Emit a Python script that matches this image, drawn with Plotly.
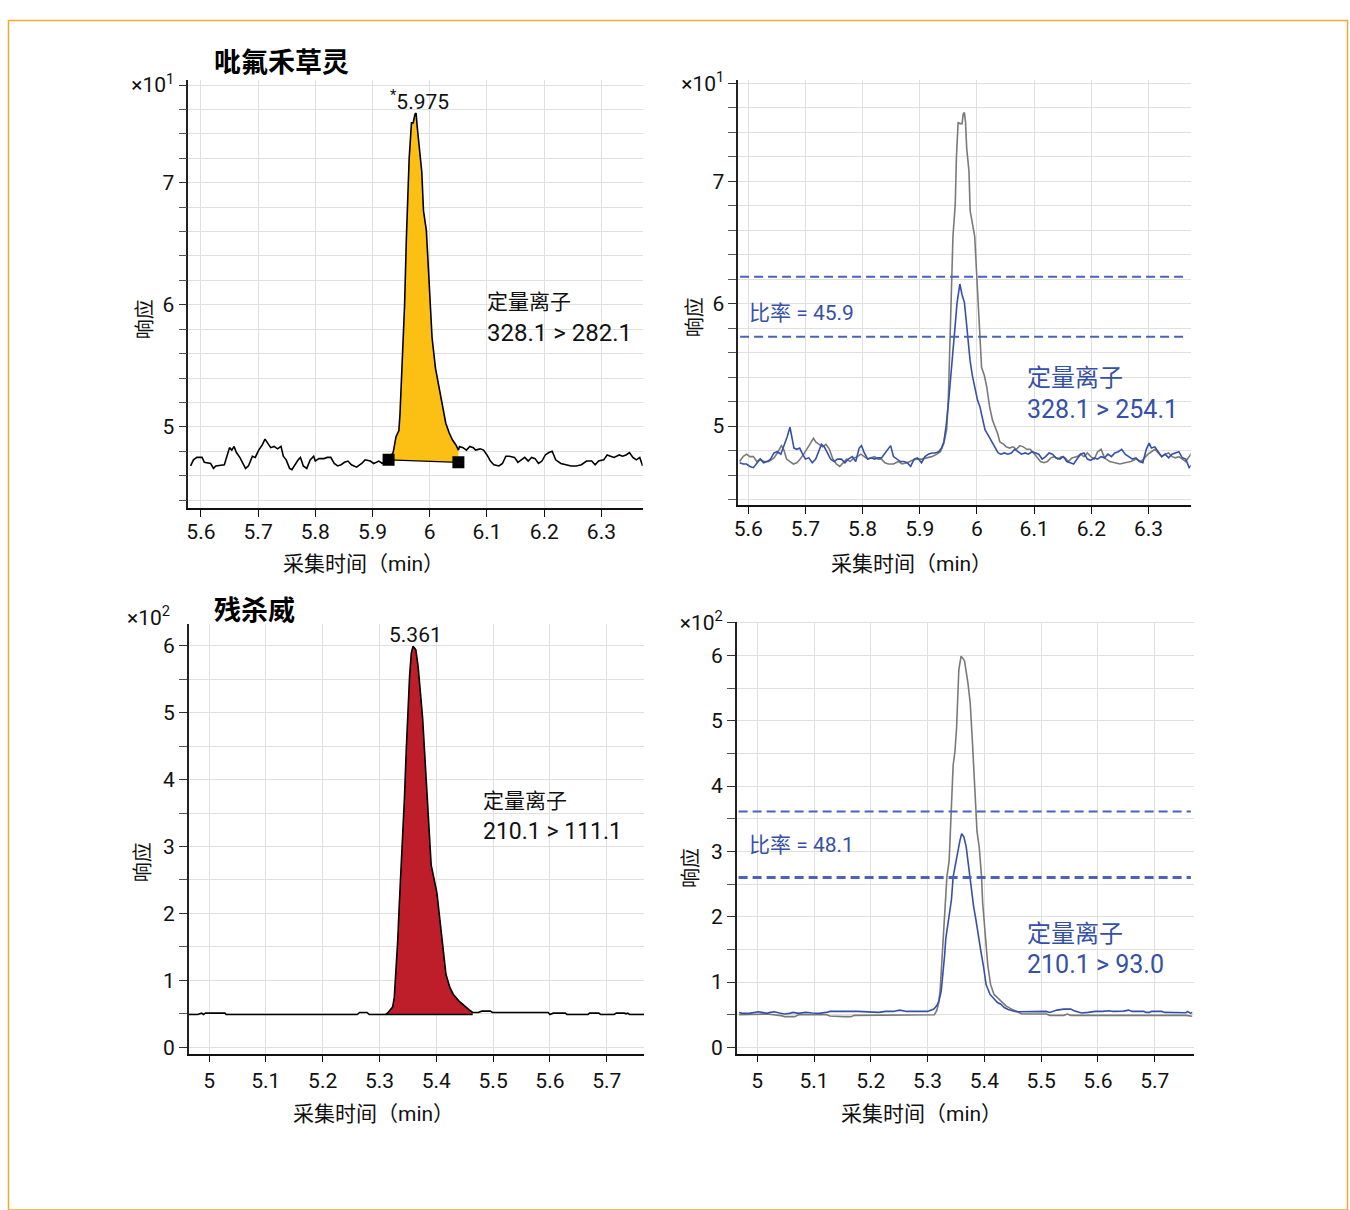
import plotly.graph_objects as go

W, H = 1350, 1210
def px(x): return x / W
def py(y): return 1 - y / H

NUM = "Roboto, 'Noto Sans', sans-serif"
CJK = "Roboto, 'Noto Sans CJK SC', sans-serif"
BLUE = "#3550A8"
GRAY = "#7a7a7a"

# ---------------- data (response in units of 10^1 / 10^2 as displayed) ----------------
# Panel 1: 吡氟禾草灵 quantifier 328.1 > 282.1
P1_T = [5.582, 5.587, 5.593, 5.602, 5.606, 5.617, 5.622, 5.626, 5.641, 5.646, 5.650, 5.654, 5.658, 5.662, 5.668,
        5.678, 5.683, 5.690, 5.695, 5.701, 5.707, 5.712, 5.716, 5.722, 5.728, 5.734, 5.740, 5.744, 5.749, 5.755,
        5.759, 5.764, 5.770, 5.774, 5.779, 5.785, 5.791, 5.797, 5.800, 5.806, 5.815, 5.821, 5.827, 5.833, 5.839,
        5.845, 5.851, 5.857, 5.863, 5.872, 5.881, 5.887, 5.896, 5.902, 5.911, 5.917, 5.923, 5.928,
        5.936, 5.941, 5.946, 5.948, 5.956, 5.959, 5.964, 5.968, 5.971, 5.974, 5.976, 5.978, 5.982, 5.986, 5.989,
        5.994, 5.998, 6.001, 6.004, 6.010, 6.016, 6.022, 6.028, 6.034, 6.040, 6.046, 6.050,
        6.052, 6.058, 6.064, 6.070, 6.076, 6.080, 6.088, 6.094, 6.100, 6.106, 6.112, 6.121, 6.127, 6.133, 6.139,
        6.148, 6.154, 6.160, 6.166, 6.172, 6.178, 6.184, 6.190, 6.196, 6.202, 6.208, 6.214, 6.220, 6.229, 6.238,
        6.247, 6.256, 6.265, 6.274, 6.283, 6.289, 6.295, 6.304, 6.310, 6.316, 6.322, 6.331, 6.337, 6.343, 6.349,
        6.355, 6.361, 6.367, 6.372]
P1_V = [4.68, 4.73, 4.75, 4.75, 4.71, 4.70, 4.66, 4.68, 4.69, 4.77, 4.83, 4.81, 4.84, 4.79, 4.75,
        4.66, 4.68, 4.76, 4.75, 4.81, 4.85, 4.90, 4.87, 4.83, 4.84, 4.82, 4.84, 4.76, 4.73, 4.66,
        4.65, 4.69, 4.73, 4.75, 4.68, 4.66, 4.73, 4.76, 4.72, 4.74, 4.74, 4.75, 4.75, 4.70, 4.68,
        4.69, 4.71, 4.72, 4.69, 4.67, 4.70, 4.73, 4.72, 4.70, 4.72, 4.70, 4.73, 4.73,
        4.79, 4.92, 4.97, 5.11, 6.00, 6.53, 7.20, 7.49, 7.49, 7.56, 7.57, 7.46, 7.30, 7.09, 6.77,
        6.61, 6.26, 6.00, 5.73, 5.48, 5.32, 5.19, 5.03, 4.95, 4.89, 4.85, 4.81,
        4.84, 4.83, 4.81, 4.84, 4.83, 4.81, 4.82, 4.81, 4.77, 4.72, 4.69, 4.68, 4.70, 4.76, 4.76,
        4.75, 4.71, 4.73, 4.75, 4.72, 4.75, 4.74, 4.70, 4.72, 4.77, 4.79, 4.80, 4.73, 4.70, 4.69,
        4.68, 4.68, 4.69, 4.72, 4.72, 4.69, 4.72, 4.73, 4.77, 4.76, 4.75, 4.77, 4.76, 4.77, 4.79,
        4.75, 4.73, 4.75, 4.68]
P1_MARK_T = [5.928, 6.050]
P1_MARK_V = [4.73, 4.71]

# Panel 2: overlay (gray = 328.1>282.1, blue = 328.1>254.1 scaled)
P2_GRAY_T = [5.585, 5.591, 5.597, 5.603, 5.609, 5.615, 5.621, 5.627, 5.636, 5.645, 5.651, 5.658, 5.662, 5.667, 5.673,
             5.679, 5.685, 5.691, 5.697, 5.703, 5.709, 5.714, 5.718, 5.724, 5.730, 5.736, 5.742, 5.748, 5.754, 5.760,
             5.766, 5.772, 5.778, 5.785, 5.791, 5.797, 5.803, 5.809, 5.815, 5.821, 5.827, 5.833, 5.839, 5.845, 5.854,
             5.863, 5.869, 5.878, 5.887, 5.896, 5.903, 5.912, 5.921, 5.930, 5.936, 5.942, 5.947, 5.950, 5.952, 5.955,
             5.958, 5.962, 5.964, 5.967, 5.970, 5.974, 5.976, 5.978, 5.980, 5.982, 5.986, 5.988, 5.992, 5.996, 5.999,
             6.002, 6.005, 6.008, 6.013, 6.017, 6.022, 6.027, 6.031, 6.036, 6.040, 6.047, 6.051, 6.057, 6.063, 6.069,
             6.075, 6.081, 6.087, 6.093, 6.099, 6.105, 6.111, 6.117, 6.123, 6.129, 6.135, 6.141, 6.148, 6.154, 6.160,
             6.166, 6.175, 6.181, 6.187, 6.193, 6.199, 6.205, 6.211, 6.217, 6.223, 6.232, 6.241, 6.250, 6.259, 6.269,
             6.278, 6.287, 6.293, 6.299, 6.305, 6.311, 6.317, 6.323, 6.329, 6.335, 6.341, 6.347, 6.353, 6.359, 6.365,
             6.371, 6.377]
P2_GRAY_V = [4.71, 4.75, 4.77, 4.75, 4.75, 4.71, 4.73, 4.71, 4.71, 4.74, 4.78, 4.84, 4.81, 4.73, 4.71,
             4.69, 4.70, 4.73, 4.77, 4.81, 4.86, 4.90, 4.87, 4.85, 4.83, 4.85, 4.81, 4.73, 4.69, 4.67,
             4.70, 4.73, 4.71, 4.74, 4.75, 4.77, 4.75, 4.73, 4.74, 4.75, 4.73, 4.73, 4.70, 4.69, 4.69,
             4.71, 4.69, 4.70, 4.72, 4.73, 4.73, 4.74, 4.75, 4.77, 4.79, 4.86, 4.97, 5.24, 5.58, 5.96,
             6.55, 6.81, 7.19, 7.48, 7.47, 7.47, 7.55, 7.56, 7.48, 7.27, 7.08, 6.76, 6.65, 6.55, 6.28,
             6.01, 5.80, 5.48, 5.41, 5.32, 5.16, 5.05, 5.00, 4.94, 4.87, 4.85, 4.83, 4.82, 4.83, 4.81,
             4.84, 4.83, 4.81, 4.81, 4.78, 4.74, 4.71, 4.70, 4.71, 4.74, 4.75, 4.73, 4.75, 4.74, 4.71,
             4.74, 4.75, 4.77, 4.75, 4.78, 4.75, 4.73, 4.79, 4.81, 4.74, 4.71, 4.70, 4.69, 4.70, 4.71,
             4.73, 4.71, 4.74, 4.77, 4.79, 4.81, 4.78, 4.75, 4.77, 4.78, 4.75, 4.74, 4.75, 4.73, 4.71,
             4.75, 4.79]
P2_BLUE_T = [5.585, 5.591, 5.597, 5.603, 5.609, 5.615, 5.621, 5.627, 5.633, 5.639, 5.645, 5.651, 5.657, 5.664, 5.668,
             5.673, 5.676, 5.680, 5.685, 5.690, 5.694, 5.700, 5.706, 5.712, 5.718, 5.724, 5.728, 5.733, 5.738, 5.744,
             5.750, 5.756, 5.763, 5.769, 5.775, 5.782, 5.788, 5.794, 5.798, 5.803, 5.809, 5.815, 5.821, 5.827, 5.833,
             5.839, 5.845, 5.849, 5.854, 5.860, 5.866, 5.872, 5.878, 5.884, 5.890, 5.896, 5.903, 5.909, 5.915, 5.921,
             5.927, 5.933, 5.938, 5.942, 5.946, 5.950, 5.954, 5.958, 5.962, 5.965, 5.968, 5.970, 5.974, 5.978, 5.981,
             5.985, 5.988, 5.992, 5.996, 6.001, 6.005, 6.010, 6.014, 6.019, 6.024, 6.028, 6.033, 6.037, 6.042, 6.048,
             6.054, 6.060, 6.066, 6.072, 6.078, 6.084, 6.090, 6.096, 6.102, 6.108, 6.114, 6.120, 6.126, 6.132, 6.138,
             6.145, 6.151, 6.157, 6.163, 6.169, 6.175, 6.181, 6.187, 6.193, 6.199, 6.205, 6.211, 6.217, 6.223, 6.229,
             6.235, 6.241, 6.247, 6.253, 6.259, 6.266, 6.272, 6.278, 6.284, 6.290, 6.296, 6.301, 6.305, 6.311, 6.317,
             6.323, 6.329, 6.335, 6.341, 6.347, 6.353, 6.359, 6.365, 6.371, 6.377]
P2_BLUE_V = [4.70, 4.69, 4.69, 4.67, 4.66, 4.70, 4.73, 4.70, 4.71, 4.73, 4.78, 4.79, 4.77, 4.86, 4.91,
             4.99, 4.91, 4.82, 4.81, 4.82, 4.78, 4.73, 4.74, 4.70, 4.73, 4.81, 4.85, 4.83, 4.78, 4.73,
             4.71, 4.73, 4.73, 4.70, 4.73, 4.75, 4.71, 4.82, 4.84, 4.78, 4.73, 4.74, 4.73, 4.74, 4.74,
             4.78, 4.82, 4.84, 4.75, 4.73, 4.71, 4.71, 4.70, 4.67, 4.73, 4.74, 4.70, 4.75, 4.77, 4.78,
             4.78, 4.79, 4.82, 4.87, 5.00, 5.18, 5.42, 5.64, 5.83, 6.00, 6.11, 6.16, 6.07, 6.01, 5.87,
             5.68, 5.53, 5.41, 5.32, 5.21, 5.16, 5.05, 4.97, 4.93, 4.89, 4.85, 4.81, 4.78, 4.77, 4.78,
             4.77, 4.78, 4.81, 4.79, 4.77, 4.78, 4.77, 4.79, 4.78, 4.77, 4.73, 4.75, 4.78, 4.77, 4.74,
             4.73, 4.75, 4.71, 4.70, 4.69, 4.73, 4.77, 4.78, 4.73, 4.72, 4.74, 4.73, 4.75, 4.74, 4.77,
             4.75, 4.78, 4.79, 4.81, 4.77, 4.75, 4.73, 4.74, 4.71, 4.70, 4.81, 4.86, 4.82, 4.83, 4.79,
             4.75, 4.77, 4.74, 4.77, 4.78, 4.79, 4.74, 4.73, 4.66, 4.69]
P2_RATIO_BOUNDS = [6.22, 5.73]

# Panel 3: 残杀威 quantifier 210.1 > 111.1
P3_T = [4.964, 4.980, 4.987, 4.990, 4.994, 5.028, 5.030, 5.261, 5.265, 5.278, 5.282, 5.311, 5.314,
        5.317, 5.323, 5.326, 5.329, 5.332, 5.335, 5.338, 5.341, 5.344, 5.347, 5.350, 5.353, 5.356, 5.359,
        5.362, 5.364, 5.368, 5.372, 5.376, 5.379, 5.383, 5.388, 5.391, 5.401, 5.407, 5.412, 5.417, 5.424,
        5.430, 5.440, 5.449, 5.458, 5.464,
        5.467, 5.474, 5.480, 5.495, 5.499, 5.597, 5.600, 5.606, 5.627, 5.630, 5.667, 5.670, 5.686, 5.689,
        5.713, 5.717, 5.731, 5.734, 5.737, 5.740, 5.766]
P3_V = [0.49, 0.49, 0.51, 0.49, 0.51, 0.51, 0.49, 0.49, 0.52, 0.52, 0.49, 0.49, 0.51,
        0.54, 0.60, 0.74, 1.09, 1.58, 2.16, 2.65, 3.06, 3.74, 4.42, 5.06, 5.55, 5.89, 5.99,
        5.96, 5.94, 5.69, 5.35, 4.91, 4.47, 3.84, 3.16, 2.72, 2.31, 1.82, 1.50, 1.09, 0.89,
        0.79, 0.69, 0.62, 0.56, 0.52,
        0.52, 0.52, 0.54, 0.54, 0.52, 0.52, 0.49, 0.51, 0.51, 0.49, 0.49, 0.51, 0.51, 0.49,
        0.49, 0.51, 0.51, 0.50, 0.51, 0.49, 0.49]
P3_FILL_T = [5.311, 5.464]
P3_FILL_BASE = 0.49

# Panel 4: overlay (gray = 210.1>111.1, blue = 210.1>93.0 scaled)
P4_GRAY_T = [4.968, 5.005, 5.017, 5.042, 5.048, 5.066, 5.073, 5.122, 5.128, 5.153, 5.165, 5.171, 5.226, 5.232, 5.312,
             5.316, 5.319, 5.322, 5.325, 5.328, 5.331, 5.334, 5.338, 5.342, 5.345, 5.348, 5.351, 5.355, 5.359,
             5.362, 5.365, 5.371, 5.375, 5.379, 5.383, 5.387, 5.391, 5.395, 5.397, 5.402, 5.406, 5.411, 5.417,
             5.423, 5.429, 5.438, 5.448, 5.457, 5.463, 5.466, 5.509, 5.515, 5.540, 5.546, 5.552, 5.755, 5.766]
P4_GRAY_V = [0.50, 0.50, 0.51, 0.485, 0.47, 0.47, 0.50, 0.50, 0.48, 0.47, 0.47, 0.49, 0.49, 0.50, 0.50,
             0.56, 0.66, 0.86, 1.26, 1.76, 2.21, 2.61, 2.86, 3.77, 4.32, 4.52, 4.88, 5.78, 5.99,
             5.96, 5.92, 5.58, 5.28, 4.67, 4.02, 3.31, 3.06, 2.61, 2.21, 1.66, 1.26, 0.96, 0.81,
             0.76, 0.71, 0.635, 0.585, 0.545, 0.525, 0.51, 0.51, 0.49, 0.49, 0.51, 0.49, 0.49, 0.475]
P4_BLUE_T = [4.968, 4.974, 4.986, 4.996, 5.002, 5.008, 5.017, 5.023, 5.030, 5.039, 5.048, 5.057, 5.063, 5.073, 5.085,
             5.097, 5.109, 5.122, 5.128, 5.177, 5.189, 5.202, 5.214, 5.226, 5.239, 5.251, 5.263, 5.300, 5.306, 5.311,
             5.316, 5.320, 5.324, 5.327, 5.330, 5.332, 5.335, 5.338, 5.342, 5.345, 5.349, 5.352, 5.357, 5.360,
             5.364, 5.368, 5.371, 5.375, 5.379, 5.381, 5.385, 5.389, 5.394, 5.399, 5.403, 5.410, 5.417, 5.423,
             5.429, 5.435, 5.442, 5.448, 5.454, 5.460, 5.485, 5.509, 5.515, 5.522, 5.528, 5.540, 5.552, 5.558,
             5.565, 5.571, 5.583, 5.595, 5.608, 5.620, 5.626, 5.645, 5.654, 5.660, 5.681, 5.684, 5.691, 5.694,
             5.712, 5.718, 5.755, 5.758, 5.763, 5.766]
P4_BLUE_V = [0.535, 0.52, 0.52, 0.535, 0.545, 0.535, 0.52, 0.535, 0.545, 0.525, 0.51, 0.52, 0.535, 0.52, 0.535,
             0.525, 0.52, 0.535, 0.55, 0.55, 0.545, 0.55, 0.535, 0.55, 0.55, 0.57, 0.55, 0.55, 0.57, 0.585,
             0.635, 0.71, 0.86, 1.11, 1.41, 1.66, 1.86, 2.01, 2.26, 2.61, 2.80, 2.97, 3.17, 3.27,
             3.22, 3.07, 2.85, 2.62, 2.31, 2.16, 1.96, 1.71, 1.46, 1.21, 0.96, 0.81, 0.735, 0.685,
             0.66, 0.61, 0.58, 0.56, 0.55, 0.545, 0.55, 0.55, 0.535, 0.56, 0.57, 0.585, 0.585, 0.56,
             0.535, 0.525, 0.535, 0.55, 0.55, 0.56, 0.55, 0.555, 0.57, 0.55, 0.55, 0.535, 0.535, 0.55,
             0.55, 0.535, 0.53, 0.55, 0.52, 0.535]
P4_RATIO_BOUNDS = [3.61, 2.60]

# ticks
X_TOP_TICKS = [5.6, 5.7, 5.8, 5.9, 6.0, 6.1, 6.2, 6.3]
X_TOP_LABELS = ["5.6", "5.7", "5.8", "5.9", "6", "6.1", "6.2", "6.3"]
X_BOT_TICKS = [5.0, 5.1, 5.2, 5.3, 5.4, 5.5, 5.6, 5.7]
X_BOT_LABELS = ["5", "5.1", "5.2", "5.3", "5.4", "5.5", "5.6", "5.7"]
Y_TOP_TICKS = [5, 6, 7, 7.8]
Y_TOP_LABELS = ["5", "6", "7", "×10<sup>1</sup>"]
Y_TOP_MINOR = [4.4, 4.6, 4.8, 5.2, 5.4, 5.6, 5.8, 6.2, 6.4, 6.6, 6.8, 7.2, 7.4, 7.6]
Y_P3_TICKS = [0, 1, 2, 3, 4, 5, 6]
Y_P3_LABELS = ["0", "1", "2", "3", "4", "5", "6"]
Y_P3_MINOR = [0.5, 1.5, 2.5, 3.5, 4.5, 5.5]
Y_P4_TICKS = [0, 1, 2, 3, 4, 5, 6, 6.5]
Y_P4_LABELS = ["0", "1", "2", "3", "4", "5", "6", "×10<sup>2</sup>"]
Y_P4_MINOR = [0.5, 1.5, 2.5, 3.5, 4.5, 5.5]

fig = go.Figure()

def line(x, y, color, ax, width=1.6):
    fig.add_trace(go.Scatter(x=x, y=y, mode="lines", line=dict(color=color, width=width),
                             xaxis=ax[0], yaxis=ax[1], hoverinfo="skip"))

# ---- Panel 1
seg = [(t, v) for t, v in zip(P1_T, P1_V) if P1_MARK_T[0] <= t <= P1_MARK_T[1]]
fx = [s[0] for s in seg] + [P1_MARK_T[1], P1_MARK_T[0]]
fy = [s[1] for s in seg] + [P1_MARK_V[1], P1_MARK_V[0]]
fig.add_trace(go.Scatter(x=fx, y=fy, fill="toself", fillcolor="#FCBF14", mode="lines",
                         line=dict(width=0, color="#FCBF14"), xaxis="x", yaxis="y", hoverinfo="skip"))
line(P1_T, P1_V, "#000000", ("x", "y"))
line(P1_MARK_T, P1_MARK_V, "#000000", ("x", "y"), 1.3)
fig.add_trace(go.Scatter(x=P1_MARK_T, y=P1_MARK_V, mode="markers",
                         marker=dict(symbol="square", size=12, color="#000000"),
                         xaxis="x", yaxis="y", hoverinfo="skip"))

# ---- Panel 2
line(P2_GRAY_T, P2_GRAY_V, GRAY, ("x2", "y2"))
line(P2_BLUE_T, P2_BLUE_V, BLUE, ("x2", "y2"))

# ---- Panel 3
seg = [(t, v) for t, v in zip(P3_T, P3_V) if P3_FILL_T[0] <= t <= P3_FILL_T[1]]
fx = [s[0] for s in seg] + [P3_FILL_T[1], P3_FILL_T[0]]
fy = [s[1] for s in seg] + [P3_FILL_BASE, P3_FILL_BASE]
fig.add_trace(go.Scatter(x=fx, y=fy, fill="toself", fillcolor="#BE1E2A", mode="lines",
                         line=dict(width=0, color="#BE1E2A"), xaxis="x3", yaxis="y3", hoverinfo="skip"))
line(P3_T, P3_V, "#000000", ("x3", "y3"))
line(P3_FILL_T, [P3_FILL_BASE, P3_FILL_BASE], "#000000", ("x3", "y3"), 1.3)

# ---- Panel 4
line(P4_GRAY_T, P4_GRAY_V, GRAY, ("x4", "y4"))
line(P4_BLUE_T, P4_BLUE_V, BLUE, ("x4", "y4"))

# ---------------- axes ----------------
GRID = "#e0e0e0"

def xax(domain, rng, ticks, labels, anchor, standoff):
    return dict(domain=domain, range=rng, tickmode="array", tickvals=ticks, ticktext=labels, anchor=anchor,
                showline=True, linecolor="#111111", linewidth=1.6, ticks="outside", ticklen=7,
                tickwidth=1.4, tickcolor="#111111", showgrid=True, gridcolor=GRID, gridwidth=1,
                ticklabelstandoff=standoff,
                zeroline=False, tickfont=dict(family=NUM, size=21, color="#111111"), fixedrange=True)

def yax(domain, rng, ticks, labels, minor, anchor):
    return dict(domain=domain, range=rng, tickmode="array", tickvals=ticks, ticktext=labels, anchor=anchor,
                showline=True, linecolor="#222222", linewidth=1.6, ticks="outside", ticklen=8,
                tickwidth=1.4, tickcolor="#333333", showgrid=True, gridcolor=GRID, gridwidth=1,
                minor=dict(tickmode="array", tickvals=minor, ticks="outside", ticklen=8, tickwidth=1.4,
                           tickcolor="#555555", showgrid=True, gridcolor=GRID, gridwidth=1),
                zeroline=False, tickfont=dict(family=NUM, size=21, color="#111111"), fixedrange=True)

fig.update_layout(
    xaxis=xax([px(184), px(640)], [5.578, 6.372], X_TOP_TICKS, X_TOP_LABELS, "y", -3),
    yaxis=yax([py(502), py(67)], [4.338, 7.842], Y_TOP_TICKS, Y_TOP_LABELS, Y_TOP_MINOR, "x"),
    xaxis2=xax([px(736), px(1190)], [5.5826, 6.3735], X_TOP_TICKS, X_TOP_LABELS, "y2", -3),
    yaxis2=yax([py(499), py(67)], [4.357, 7.827], Y_TOP_TICKS, Y_TOP_LABELS, Y_TOP_MINOR, "x2"),
    xaxis3=xax([px(184.5), px(641.5)], [4.9644, 5.7658], X_BOT_TICKS, X_BOT_LABELS, "y3", 0),
    yaxis3=yax([py(1057), py(620)], [-0.093, 6.328], Y_P3_TICKS, Y_P3_LABELS, Y_P3_MINOR, "x3"),
    xaxis4=xax([px(734.5), px(1193)], [4.964, 5.7684], X_BOT_TICKS, X_BOT_LABELS, "y4", 0),
    yaxis4=yax([py(1057), py(618)], [-0.095, 6.517], Y_P4_TICKS, Y_P4_LABELS, Y_P4_MINOR, "x4"),
)

# ---------------- shapes ----------------
shapes = [dict(type="rect", xref="paper", yref="paper", x0=px(3.5), x1=px(1347.5), y0=py(1216), y1=py(6.5),
               line=dict(color="#F5A833", width=1.5), fillcolor="rgba(0,0,0,0)", layer="below")]
for v in P2_RATIO_BOUNDS:
    shapes.append(dict(type="line", xref="x2 domain", yref="y2", x0=0.004, x1=0.994, y0=v, y1=v,
                       line=dict(color="#4A62B8", width=2, dash="9px,5px")))
for i, v in enumerate(P4_RATIO_BOUNDS):
    shapes.append(dict(type="line", xref="x4 domain", yref="y4", x0=0.004, x1=0.994, y0=v, y1=v,
                       line=dict(color="#4A62B8", width=2 if i == 0 else 3, dash="9px,5px")))

# ---------------- annotations ----------------
def ann(text, x, y, size=21, color="#111111", xanchor="center", angle=0, family=CJK):
    return dict(text=text, x=px(x), y=py(y), xref="paper", yref="paper", showarrow=False,
                xanchor=xanchor, yanchor="middle", textangle=angle,
                font=dict(family=family, size=size, color=color))

TITLE_FONT = "'Noto Sans CJK SC', sans-serif"
anns = [
    ann("<b>吡氟禾草灵</b>", 208, 47, 27, "#000000", "left", family=TITLE_FONT),
    ann("<b>残杀威</b>", 208, 604, 27, "#000000", "left", family=TITLE_FONT),
    ann("响应", 140, 310, 20, angle=-90), ann("响应", 692, 308, 20, angle=-90),
    ann("响应", 138, 862, 20, angle=-90), ann("响应", 688, 868, 20, angle=-90),
    ann("采集时间（min）", 360, 559), ann("采集时间（min）", 910, 559),
    ann("采集时间（min）", 370, 1118), ann("采集时间（min）", 920, 1118),
    ann("×10<sup>2</sup>", 168, 612, 21, xanchor="right", family=NUM),
    ann("<sup>*</sup>5.975", 416, 87, 21, family=NUM),
    ann("5.361", 412, 631, 21, family=NUM),
    ann("定量离子", 482, 293, 21, xanchor="left"),
    ann("328.1 > 282.1", 482, 324, 24, xanchor="left", family=NUM),
    ann("定量离子", 478, 800, 21, xanchor="left"),
    ann("210.1 > 111.1", 478, 831, 23, xanchor="left", family=NUM),
    ann("比率 = 45.9", 745, 304, 21, BLUE, "left"),
    ann("定量离子", 1024, 370, 24, BLUE, "left"),
    ann("328.1 > 254.1", 1024, 402, 25, BLUE, "left", family=NUM),
    ann("比率 = 48.1", 745, 845, 21, BLUE, "left"),
    ann("定量离子", 1024, 935, 24, BLUE, "left"),
    ann("210.1 > 93.0", 1024, 966, 25, BLUE, "left", family=NUM),
]

fig.update_layout(width=W, height=H, margin=dict(l=0, r=0, t=0, b=0),
                  paper_bgcolor="white", plot_bgcolor="white", showlegend=False,
                  shapes=shapes, annotations=anns)

fig.write_html("out.html",
               post_script="document.body.style.margin='0';document.body.style.padding='0';")
